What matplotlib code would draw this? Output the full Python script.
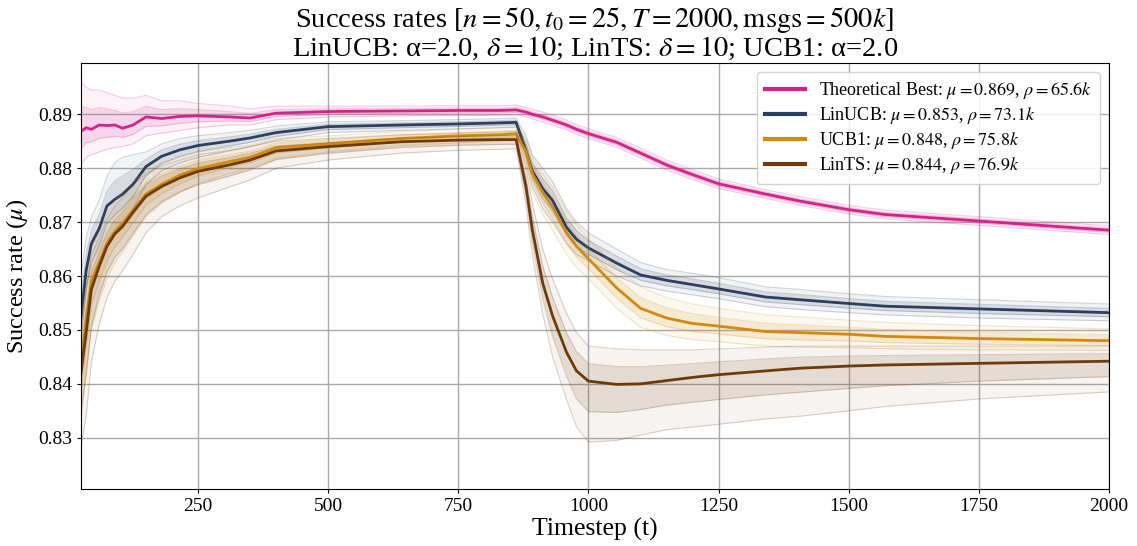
import numpy as np
import matplotlib
matplotlib.use("Agg")
import matplotlib.pyplot as plt

plt.rcParams['font.family'] = ['Liberation Serif', 'DejaVu Serif']
plt.rcParams['mathtext.fontset'] = 'stix'

t = [25, 35, 45, 60, 75, 90, 105, 125, 150, 180, 215, 250, 310, 350, 400, 500,
     640, 750, 829, 861, 880, 892, 912, 931, 958, 977, 1000, 1054, 1100, 1150,
     1200, 1250, 1340, 1406, 1500, 1570, 1750, 2000]

# Theoretical best
best_mean = [0.8868, 0.8875, 0.8872, 0.8880, 0.8879, 0.8880, 0.8874, 0.8880, 0.8895, 0.8892,
             0.8896, 0.8897, 0.8895, 0.8893, 0.8902, 0.8905, 0.8906, 0.8907, 0.8907, 0.8908,
             0.8904, 0.8900, 0.8895, 0.8889, 0.8880, 0.8872, 0.8864, 0.8848, 0.8828, 0.8806,
             0.8788, 0.8771, 0.8752, 0.8739, 0.8723, 0.8714, 0.8702, 0.8685]
best_lo = [0.8805, 0.8820, 0.8825, 0.8830, 0.8835, 0.8838, 0.8840, 0.8845, 0.8860, 0.8865,
           0.8870, 0.8875, 0.8880, 0.8880, 0.8890, 0.8895, 0.8897, 0.8898, 0.8898, 0.8899,
           0.8895, 0.8891, 0.8886, 0.8880, 0.8871, 0.8863, 0.8855, 0.8839, 0.8819, 0.8797,
           0.8779, 0.8762, 0.8744, 0.8731, 0.8715, 0.8706, 0.8694, 0.8677]
best_hi = [0.8960, 0.8950, 0.8945, 0.8945, 0.8940, 0.8935, 0.8930, 0.8930, 0.8935, 0.8925,
           0.8925, 0.8920, 0.8915, 0.8910, 0.8915, 0.8915, 0.8915, 0.8916, 0.8916, 0.8917,
           0.8913, 0.8909, 0.8904, 0.8898, 0.8889, 0.8881, 0.8873, 0.8857, 0.8837, 0.8815,
           0.8797, 0.8780, 0.8760, 0.8747, 0.8731, 0.8722, 0.8710, 0.8693]

# LinUCB
linucb_mean = [0.8523, 0.8610, 0.8660, 0.8688, 0.8730, 0.8742, 0.8752, 0.8770, 0.8803, 0.8822,
               0.8834, 0.8842, 0.8850, 0.8856, 0.8866, 0.8877, 0.8880, 0.8882, 0.8884, 0.8885,
               0.8832, 0.8795, 0.8762, 0.8740, 0.8690, 0.8668, 0.8652, 0.8624, 0.8602, 0.8592,
               0.8584, 0.8576, 0.8561, 0.8556, 0.8549, 0.8544, 0.8539, 0.8532]
linucb_lo = [0.8440, 0.8540, 0.8590, 0.8625, 0.8665, 0.8685, 0.8700, 0.8725, 0.8770, 0.8795,
             0.8810, 0.8820, 0.8832, 0.8840, 0.8852, 0.8866, 0.8870, 0.8873, 0.8875, 0.8876,
             0.8810, 0.8765, 0.8725, 0.8700, 0.8660, 0.8640, 0.8628, 0.8600, 0.8582, 0.8572,
             0.8565, 0.8558, 0.8543, 0.8538, 0.8532, 0.8528, 0.8522, 0.8517]
linucb_hi = [0.8600, 0.8670, 0.8710, 0.8740, 0.8785, 0.8810, 0.8820, 0.8825, 0.8830, 0.8845,
             0.8855, 0.8860, 0.8866, 0.8870, 0.8878, 0.8886, 0.8888, 0.8890, 0.8892, 0.8893,
             0.8860, 0.8825, 0.8800, 0.8775, 0.8725, 0.8700, 0.8680, 0.8650, 0.8625, 0.8612,
             0.8605, 0.8597, 0.8580, 0.8575, 0.8567, 0.8562, 0.8556, 0.8548]

# UCB1
ucb1_mean = [0.8440, 0.8510, 0.8590, 0.8625, 0.8660, 0.8682, 0.8698, 0.8722, 0.8752, 0.8770,
             0.8787, 0.8799, 0.8812, 0.8820, 0.8838, 0.8845, 0.8855, 0.8860, 0.8862, 0.8864,
             0.8830, 0.8790, 0.8755, 0.8728, 0.8680, 0.8655, 0.8632, 0.8578, 0.8540, 0.8522,
             0.8512, 0.8507, 0.8497, 0.8495, 0.8492, 0.8488, 0.8484, 0.8480]
ucb1_lo = [0.8330, 0.8420, 0.8500, 0.8555, 0.8595, 0.8625, 0.8645, 0.8675, 0.8710, 0.8735,
           0.8755, 0.8772, 0.8790, 0.8800, 0.8818, 0.8830, 0.8842, 0.8847, 0.8850, 0.8852,
           0.8805, 0.8755, 0.8715, 0.8685, 0.8640, 0.8615, 0.8595, 0.8540, 0.8505, 0.8490,
           0.8482, 0.8478, 0.8470, 0.8468, 0.8467, 0.8465, 0.8463, 0.8462]
ucb1_hi = [0.8520, 0.8580, 0.8650, 0.8680, 0.8715, 0.8740, 0.8755, 0.8775, 0.8795, 0.8810,
           0.8820, 0.8830, 0.8838, 0.8843, 0.8855, 0.8860, 0.8868, 0.8872, 0.8875, 0.8877,
           0.8855, 0.8820, 0.8790, 0.8765, 0.8720, 0.8695, 0.8670, 0.8615, 0.8580, 0.8560,
           0.8548, 0.8540, 0.8528, 0.8524, 0.8518, 0.8514, 0.8508, 0.8502]

# LinTS
lints_mean = [0.8420, 0.8495, 0.8575, 0.8618, 0.8655, 0.8678, 0.8692, 0.8718, 0.8748, 0.8766,
              0.8782, 0.8794, 0.8806, 0.8815, 0.8832, 0.8840, 0.8849, 0.8852, 0.8853, 0.8853,
              0.8765, 0.8686, 0.8587, 0.8526, 0.8458, 0.8424, 0.8405, 0.8399, 0.8400, 0.8406,
              0.8412, 0.8417, 0.8424, 0.8429, 0.8433, 0.8435, 0.8438, 0.8442]
lints_lo = [0.8280, 0.8340, 0.8440, 0.8510, 0.8560, 0.8590, 0.8610, 0.8640, 0.8680, 0.8710,
            0.8730, 0.8745, 0.8765, 0.8778, 0.8800, 0.8815, 0.8828, 0.8833, 0.8835, 0.8836,
            0.8730, 0.8640, 0.8530, 0.8450, 0.8370, 0.8320, 0.8292, 0.8295, 0.8305, 0.8315,
            0.8320, 0.8325, 0.8335, 0.8340, 0.8350, 0.8358, 0.8372, 0.8385]
lints_hi = [0.8500, 0.8570, 0.8640, 0.8670, 0.8705, 0.8730, 0.8745, 0.8770, 0.8790, 0.8805,
            0.8815, 0.8825, 0.8833, 0.8840, 0.8850, 0.8855, 0.8862, 0.8865, 0.8867, 0.8868,
            0.8800, 0.8735, 0.8650, 0.8595, 0.8530, 0.8495, 0.8470, 0.8465, 0.8463, 0.8463,
            0.8463, 0.8465, 0.8468, 0.8470, 0.8470, 0.8470, 0.8470, 0.8470]

labels = [r'Theoretical Best: $\mu=0.869$, $\rho=65.6k$',
          r'LinUCB: $\mu=0.853$, $\rho=73.1k$',
          r'UCB1: $\mu=0.848$, $\rho=75.8k$',
          r'LinTS: $\mu=0.844$, $\rho=76.9k$']
colors = ['#d3238a', '#2b3f5e', '#d2890c', '#6e3a0a']

series = [(best_mean, best_lo, best_hi),
          (linucb_mean, linucb_lo, linucb_hi),
          (ucb1_mean, ucb1_lo, ucb1_hi),
          (lints_mean, lints_lo, lints_hi)]

fig = plt.figure(figsize=(11.37, 5.46), dpi=100)
ax = fig.add_axes([0.0712, 0.1044, 0.9042, 0.7802])

for (m, lo, hi), c, lab in zip(series, colors, labels):
    m, lo, hi = np.array(m), np.array(lo), np.array(hi)
    ax.fill_between(t, lo, hi, color=c, alpha=0.06, lw=0)
    # inner band where most runs sit
    ax.fill_between(t, (lo + m) / 2, (hi + m) / 2, color=c, alpha=0.13, lw=0)
    for edge in (lo, hi, (lo + m) / 2, (hi + m) / 2):
        ax.plot(t, edge, color=c, lw=0.8, alpha=0.22)
    ax.plot(t, m, color=c, lw=2.0, label=lab)

ax.set_xlim(25, 2000)
ax.set_ylim(0.8205, 0.8995)
ax.set_xticks([250, 500, 750, 1000, 1250, 1500, 1750, 2000])
ax.set_yticks([0.83, 0.84, 0.85, 0.86, 0.87, 0.88, 0.89])
ax.tick_params(labelsize=14, length=3)
ax.grid(True, color='#aaaaaa', lw=1)
ax.set_axisbelow(True)

ax.set_xlabel('Timestep (t)', fontsize=18.5, labelpad=2)
ax.set_ylabel(r'Success rate ($\mu$)', fontsize=17.5, labelpad=6)
ax.set_title('Success rates [$n=50, t_0=25, T=2000, \\mathrm{msgs}=500k$]\n'
             'LinUCB: α=2.0, $\\delta=10$; LinTS: $\\delta=10$; UCB1: α=2.0',
             fontsize=20.5, linespacing=1.0, pad=5)

leg = ax.legend(loc='upper right', fontsize=13, handlelength=2.2, framealpha=0.85,
                borderpad=0.45, labelspacing=0.22)
for line in leg.get_lines():
    line.set_linewidth(3)

fig.savefig('out.png', dpi=100)
